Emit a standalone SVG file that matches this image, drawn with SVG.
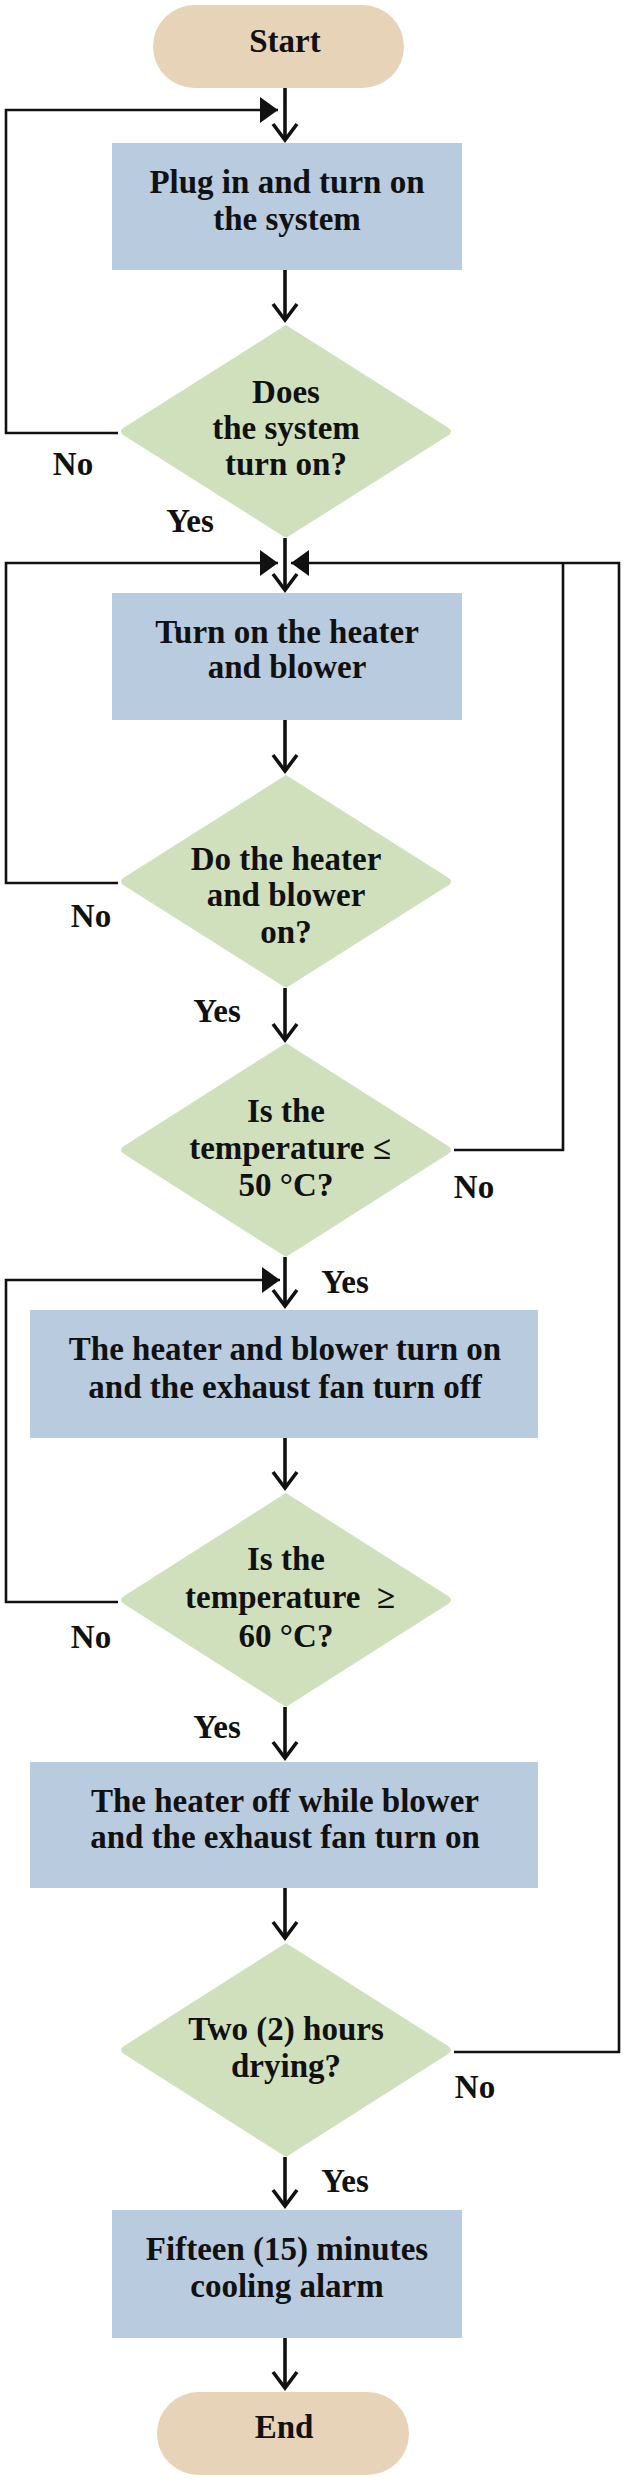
<svg xmlns="http://www.w3.org/2000/svg" width="626" height="2480" viewBox="0 0 626 2480">
<style>
.pill{fill:#e7d4b8}
.box{fill:#b9cbdf}
.dia{fill:#d0e0bd}
text{font-family:"Liberation Serif","Times New Roman",serif;font-weight:bold;font-size:33px;fill:#111;text-anchor:middle}
.lbl{font-size:33px}
.flow{fill:none;stroke:#111;stroke-width:3.6}
.loop{fill:none;stroke:#111;stroke-width:2.6}
</style>
<defs>
<marker id="chev" markerUnits="userSpaceOnUse" viewBox="-20 -15 24 30" markerWidth="24" markerHeight="30" refX="0" refY="0" orient="auto" overflow="visible">
<path d="M-16,-12 L0,0 L-16,12" fill="none" stroke="#111" stroke-width="3.6" stroke-linejoin="miter"/>
</marker>
<marker id="tri" markerUnits="userSpaceOnUse" viewBox="-20 -15 22 30" markerWidth="22" markerHeight="30" refX="0" refY="0" orient="auto" overflow="visible">
<path d="M-18,-13 L0,0 L-18,13 Z" fill="#111"/>
</marker>
</defs>
<rect width="626" height="2480" fill="#ffffff"/>

<g id="start"><rect class="pill" x="153" y="5" width="251" height="83" rx="41.5"/><text x="285" y="52">Start</text></g>

<g id="plug"><rect class="box" x="112" y="143" width="350" height="127"/><text x="287" y="193">Plug in and turn on</text><text x="287" y="230">the system</text></g>

<g id="d1"><path class="dia" d="M286,325 L448,427.5 Q454,431.5 448,435.5 L286,538 L124,435.5 Q118,431.5 124,427.5 Z"/><text x="286" y="403">Does</text><text x="286" y="439">the system</text><text x="286" y="475">turn on?</text></g>

<g id="heater"><rect class="box" x="112" y="593" width="350" height="127"/><text x="287" y="643">Turn on the heater</text><text x="287" y="678">and blower</text></g>

<g id="d2"><path class="dia" d="M286,775 L448,877.5 Q454,881.5 448,885.5 L286,988 L124,885.5 Q118,881.5 124,877.5 Z"/><text x="286" y="870">Do the heater</text><text x="286" y="906">and blower</text><text x="286" y="943">on?</text></g>

<g id="d3"><path class="dia" d="M286,1043 L448,1146 Q454,1150 448,1154 L286,1257 L124,1154 Q118,1150 124,1146 Z"/><text x="286" y="1122">Is the</text><text x="290" y="1159">temperature ≤</text><text x="286" y="1196">50 °C?</text></g>

<g id="heat-on"><rect class="box" x="30" y="1310" width="508" height="128"/><text x="285" y="1360">The heater and blower turn on</text><text x="285" y="1398">and the exhaust fan turn off</text></g>

<g id="d4"><path class="dia" d="M286,1493 L448,1596 Q454,1600 448,1604 L286,1707 L124,1604 Q118,1600 124,1596 Z"/><text x="286" y="1570">Is the</text><text x="290" y="1608" style="white-space:pre">temperature  ≥</text><text x="286" y="1647">60 °C?</text></g>

<g id="heat-off"><rect class="box" x="30" y="1762" width="508" height="126"/><text x="285" y="1812">The heater off while blower</text><text x="285" y="1848">and the exhaust fan turn on</text></g>

<g id="d5"><path class="dia" d="M286,1943 L448,2046 Q454,2050 448,2054 L286,2157 L124,2054 Q118,2050 124,2046 Z"/><text x="286" y="2040">Two (2) hours</text><text x="286" y="2077">drying?</text></g>

<g id="cool"><rect class="box" x="112" y="2210" width="350" height="128"/><text x="287" y="2260">Fifteen (15) minutes</text><text x="287" y="2297">cooling alarm</text></g>

<g id="end"><rect class="pill" x="157" y="2392" width="252" height="83" rx="41.5"/><text x="284" y="2438">End</text></g>

<g id="connectors">
<path class="flow" d="M285,88 V140" marker-end="url(#chev)"/>
<path class="flow" d="M285,270 V320" marker-end="url(#chev)"/>
<path class="flow" d="M285,538 V590" marker-end="url(#chev)"/>
<path class="flow" d="M285,720 V771" marker-end="url(#chev)"/>
<path class="flow" d="M285,988 V1040" marker-end="url(#chev)"/>
<path class="flow" d="M285,1257 V1306" marker-end="url(#chev)"/>
<path class="flow" d="M285,1438 V1488" marker-end="url(#chev)"/>
<path class="flow" d="M285,1707 V1758" marker-end="url(#chev)"/>
<path class="flow" d="M285,1888 V1938" marker-end="url(#chev)"/>
<path class="flow" d="M285,2157 V2206" marker-end="url(#chev)"/>
<path class="flow" d="M285,2338 V2388" marker-end="url(#chev)"/>

<path class="loop" d="M118,433 H6 V110 H278" marker-end="url(#tri)"/>
<path class="loop" d="M118,883 H6 V563 H278" marker-end="url(#tri)"/>
<path class="loop" d="M454,1150 H563 V563"/>
<path class="loop" d="M454,2052 H619 V563 H291" marker-end="url(#tri)"/>
<path class="loop" d="M118,1602 H6 V1280 H280" marker-end="url(#tri)"/>
</g>

<g id="labels">
<text class="lbl" x="73" y="475">No</text>
<text class="lbl" x="190" y="532">Yes</text>
<text class="lbl" x="91" y="927">No</text>
<text class="lbl" x="217" y="1022">Yes</text>
<text class="lbl" x="474" y="1198">No</text>
<text class="lbl" x="345" y="1293">Yes</text>
<text class="lbl" x="91" y="1648">No</text>
<text class="lbl" x="217" y="1738">Yes</text>
<text class="lbl" x="475" y="2098">No</text>
<text class="lbl" x="345" y="2192">Yes</text>
</g>
</svg>
